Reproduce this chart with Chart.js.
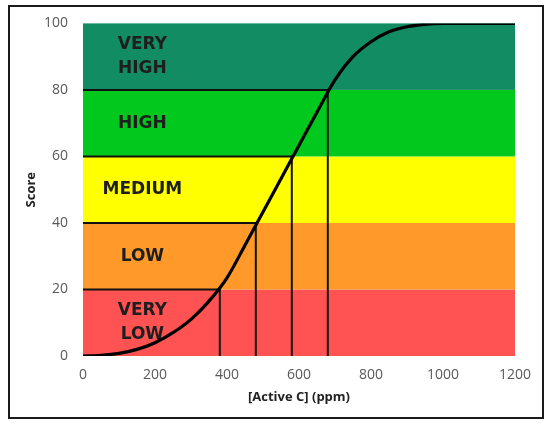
<!DOCTYPE html>
<html lang="en">
  <head>
    <meta charset="UTF-8">
    <title>Score vs Active C</title>
    <script src="https://cdn.jsdelivr.net/npm/chart.js@4.4.0/dist/chart.umd.min.js"></script>
    <style>
      body { margin: 0; background: #fff; }
      #frame { position: absolute; left: 8px; top: 5px; width: 532px; height: 410px; border: 2px solid #1a1a1a; }
      #wrap { position: absolute; left: 0; top: 0; width: 550px; height: 426px; }
    </style>
  </head>
  <body>
    <div id="frame"></div>
    <div id="wrap"><canvas id="myChart"></canvas></div>

    <script>
      // curve
      const activeC = [0, 50, 100, 150, 200, 250, 300, 350, 400, 450, 500, 550, 600, 650, 700, 750, 800, 850, 900, 950, 1000, 1100, 1200];
      const score = [0, 0.2, 0.8, 2, 4, 7, 11, 16.5, 23.5, 33.3, 43.3, 53.3, 63.3, 73.3, 83, 90, 94.5, 97.5, 99, 99.7, 100, 100, 100];

      // threshold drop lines
      const cutX = [380, 480, 580, 680];
      const cutY = [20, 40, 60, 80];

      // score classes, bottom to top
      const bandEdges = [0, 20, 40, 60, 80, 100];
      const bandNames = [['VERY', 'LOW'], ['LOW'], ['MEDIUM'], ['HIGH'], ['VERY', 'HIGH']];
      const bandColors = ['#ff5252', '#ff9a2a', '#ffff00', '#00c81c', '#128c62'];

      const xTicks = [0, 200, 400, 600, 800, 1000, 1200];
      const yTicks = [0, 20, 40, 60, 80, 100];

      const bands = {
        id: 'bands',
        beforeDatasetsDraw(chart) {
          const { ctx, scales: { x, y } } = chart;
          ctx.save();
          const left = x.getPixelForValue(0), right = x.getPixelForValue(1200);
          for (let i = 0; i < bandNames.length; i++) {
            const top = y.getPixelForValue(bandEdges[i + 1]);
            const bot = y.getPixelForValue(bandEdges[i]);
            ctx.fillStyle = bandColors[i];
            ctx.fillRect(left, top, right - left, bot - top);
          }
          ctx.font = 'bold 17px "DejaVu Sans"';
          ctx.fillStyle = '#1e1e1e';
          ctx.textAlign = 'center';
          ctx.textBaseline = 'middle';
          const cx = x.getPixelForValue(165);
          for (let i = 0; i < bandNames.length; i++) {
            const mid = y.getPixelForValue((bandEdges[i] + bandEdges[i + 1]) / 2);
            const lines = bandNames[i];
            lines.forEach((t, k) => {
              ctx.fillText(t, cx, mid + (k - (lines.length - 1) / 2) * 24);
            });
          }
          ctx.restore();
        }
      };

      const cutSets = cutX.map((cx, i) => ({
        data: [{ x: 0, y: cutY[i] }, { x: cx, y: cutY[i] }, { x: cx, y: 0 }],
        showLine: true,
        borderColor: '#111',
        borderWidth: 2,
        pointRadius: 0,
        tension: 0
      }));

      const ctx = document.getElementById('myChart').getContext('2d');
      const myChart = new Chart(ctx, {
        type: 'scatter',
        data: {
          datasets: [
            {
              data: activeC.map((v, i) => ({ x: v, y: score[i] })),
              showLine: true,
              borderColor: '#000',
              borderWidth: 3.2,
              pointRadius: 0,
              cubicInterpolationMode: 'monotone'
            },
            ...cutSets
          ]
        },
        options: {
          responsive: true,
          maintainAspectRatio: false,
          animation: false,
          layout: { padding: { left: 10, right: 35, top: 20, bottom: 10 } },
          plugins: { legend: { display: false }, tooltip: { enabled: false } },
          scales: {
            x: {
              type: 'linear', min: 0, max: 1200,
              afterBuildTicks: s => { s.ticks = xTicks.map(v => ({ value: v })); },
              afterFit: s => { s.height = 60; },
              grid: { display: false, drawTicks: false },
              border: { display: false },
              ticks: { color: '#595959', padding: 11, font: { family: 'Open Sans', size: 14 }, callback: v => String(v) },
              title: { display: true, text: '[Active C] (ppm)', color: '#222', padding: { top: 0, bottom: 11 }, font: { family: 'Open Sans', size: 13, weight: 'bold' } }
            },
            y: {
              type: 'linear', min: 0, max: 100,
              afterBuildTicks: s => { s.ticks = yTicks.map(v => ({ value: v })); },
              afterFit: s => { s.width = 73; },
              grid: { display: false, drawTicks: false },
              border: { display: false },
              ticks: { color: '#595959', padding: 15, font: { family: 'Open Sans', size: 14 }, callback: v => String(v) },
              title: { display: true, text: 'Score', color: '#222', padding: { top: 13, bottom: 0 }, font: { family: 'Open Sans', size: 13, weight: 'bold' } }
            }
          }
        },
        plugins: [bands]
      });
    </script>
  </body>
</html>
